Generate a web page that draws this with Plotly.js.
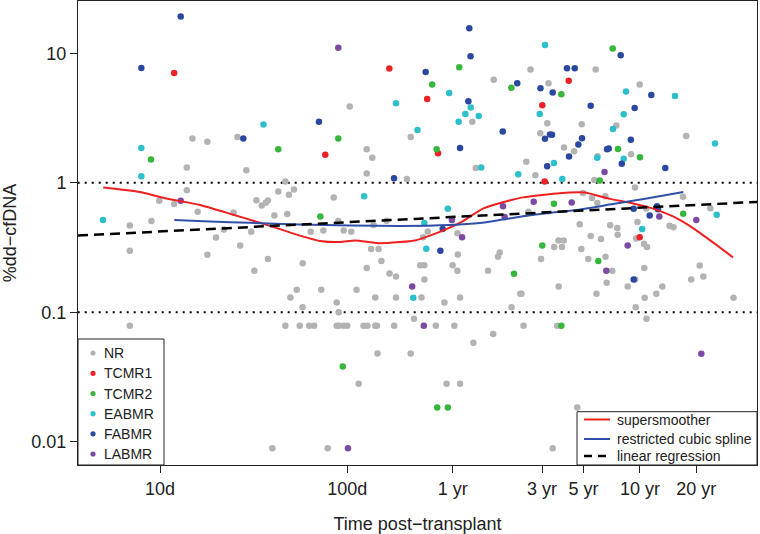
<!DOCTYPE html>
<html><head><meta charset="utf-8">
<script src="https://cdn.plot.ly/plotly-3.0.1.min.js"></script>
<style>html,body{margin:0;padding:0;background:#fff}#chart{width:760px;height:534px}</style>
</head><body><div id="chart"></div>
<script>
// ---- data: time post-transplant (days) and %dd-cfDNA ----
const nrDays = [6.9,9.0,9.9,11.9,13.9,13.9,14.9,15.9,17.9,25.9,28.9,24.7,21.9,30.7,19.9,26.8,6.9,17.9,31.9,6.9,
  32.7,34.9,36.7,37.7,40.8,42.8,46.7,48.8,51.9,47.8,84.6,103,127,136,127,89.5,63.8,74.5,95.7,105,
  162,138,218,208,134,147,37.7,57.8,152,127,245,168,182,53.7,72.6,112,49.7,141,182,87.8,
  57.7,89.9,227,46.7,55.7,62.6,66.5,87.8,90.6,95.7,99.9,122,128,141,144,178,145,218,115,39.8,
  78.6,258,365,269,254,387,389,387,258,249,330,400,297,373,471,339,400,465,485,605,
  951,1186,1169,1072,1435,1624,903,1009,1785,1813,926,1741,651,638,564,839,851,753,873,601,
  1272,1400,1341,1430,1082,1776,1935,1345,1320,1689,1249,2119,3640,2731,6448,3271,2166,2083,3436,6200,
  2025,2161,2386,3943,8672,3543,2533,2764,5253,5517,1993,2262,2778,3487,3838,3982,2391,2600,2427,2140,
  3448,3141,3852,3870,4465,4808,3465,3957,6857,7612,7956,11533];
const nrVal = [0.467,0.505,0.725,0.685,0.876,1.31,2.19,0.597,2.07,2.25,1.25,0.589,0.435,0.418,0.377,0.328,0.298,0.278,0.209,0.0787,
  0.733,0.668,0.700,0.728,0.557,0.856,1.02,0.808,0.886,0.573,0.767,3.87,1.81,1.56,1.18,0.507,0.418,0.427,0.427,0.418,
  0.509,0.471,2.25,1.07,0.308,0.308,0.258,0.239,0.248,0.219,0.230,0.199,0.189,0.149,0.149,0.149,0.13,0.13,0.13,0.119,
  0.109,0.1,0.089,0.0787,0.0787,0.0787,0.0787,0.0787,0.0787,0.0787,0.0787,0.0787,0.0787,0.0787,0.0787,0.0787,0.048,0.048,0.028,0.0089,
  0.0089,0.23,0.23,0.419,0.379,0.407,0.279,0.209,0.179,0.13,0.119,0.13,0.0787,0.0787,0.058,0.028,0.028,2.95,1.30,6.24,
  7.48,5.87,2.88,2.41,1.87,1.75,1.45,1.14,2.83,0.832,0.597,0.477,0.289,0.268,0.209,0.139,0.139,0.109,0.0787,0.068,
  0.319,0.319,0.358,0.358,0.258,0.308,0.258,0.158,0.0787,0.0184,0.0089,7.48,5.73,2.76,2.29,1.66,1.60,1.05,0.918,0.780,
  0.763,0.697,0.786,0.631,0.635,0.496,0.469,0.447,0.465,0.453,0.388,0.368,0.397,0.370,0.338,0.319,0.268,0.209,0.169,0.139,
  0.179,0.158,0.219,0.129,0.139,0.158,0.109,0.089,0.179,0.229,0.189,0.129];

const tcmr1Days = [11.9,76.3,167.6,267,305,1521,1099,1132,3640];
const tcmr1Val  = [7.03,1.64,7.62,4.42,1.69,6.13,3.97,1.02,0.379];

const tcmr2Days = [8.95,42.8,89.5,71.8,94.6,396,284,300,751,1389,2612,2788,3653,2226,1268,1099,2188,776,1389,6215,302,344];
const tcmr2Val  = [1.51,1.81,2.19,0.547,0.038,7.80,5.73,1.81,5.40,4.81,10.87,1.82,1.57,1.04,0.688,0.328,0.248,0.198,0.0787,0.576,0.0184,0.0184];

const eabmrDays = [4.96,7.95,7.95,35.7,123,182,237,350,456,427,393,503,519,818,1136,1065,1268,1406,344,258,264,225,3076,2990,2622,5620,9189,2161,2990,3753,9381];
const eabmrVal  = [0.516,1.85,1.12,2.81,0.786,4.11,2.55,4.93,3.80,3.39,2.95,3.27,1.31,1.16,11.56,3.39,1.42,1.07,0.628,0.488,0.309,0.1295,5.05,3.37,2.60,4.67,2.01,1.56,1.53,0.438,0.566];

const fabmrDays = [12.9,7.95,27.85,70.6,177.6,262,448,455,443,400,676,808,1075,1249,1489,1638,1993,1136,1208,1238,1167,1527,1712,1791,323,314,2882,4198,3423,3263,2436,2487,2921,4989,3381,4115,4503,4560,3381];
const fabmrVal  = [19.2,7.70,2.19,2.95,1.08,7.16,15.6,9.47,4.26,1.85,2.49,5.87,5.36,4.96,7.66,7.66,3.92,2.18,2.36,2.35,1.34,1.59,1.97,2.20,0.438,0.298,9.64,4.76,3.78,2.15,1.81,1.84,1.40,1.30,0.628,0.557,0.659,0.624,0.179];

const labmrDays = [12.9,89.5,100.8,222,256,362,410,678,692,989,1578,2362,3141,2415,4634,7301,7762];
const labmrVal  = [0.725,11.0,0.0089,0.158,0.0787,0.516,0.379,0.657,0.543,0.712,0.704,1.21,0.328,0.209,0.547,0.516,0.0477];

// fitted curves
const smoothDays = [4.98,7.82,10.86,16.36,24.6,34.2,43.7,55.9,71.5,91.4,109.9,145.9,191.1,229.9,276.4,340.7,414.7,530.3,678,867,1136,1545,1858,2102,2527,3231,4287,5483,6512,7366,8966,11470];
const smoothVal  = [0.918,0.846,0.754,0.673,0.566,0.490,0.438,0.390,0.355,0.348,0.358,0.341,0.348,0.358,0.390,0.440,0.505,0.631,0.706,0.770,0.808,0.839,0.839,0.804,0.750,0.700,0.631,0.550,0.479,0.425,0.346,0.265];

const splineDays = [11.92,18.5,30.2,55.9,103.4,191.1,353.5,511,678,945,1208,1748,2622,3967,6222];
const splineVal  = [0.516,0.502,0.490,0.475,0.467,0.463,0.471,0.488,0.520,0.560,0.584,0.621,0.685,0.754,0.846];

const linregDays = [3, 20000];
const linregVal  = [0.385, 0.724];

const refLineDays = [1, 100000];
const refLevels = [1, 0.1];

const xTickVals = [10, 100, 365.25, 1095.75, 1826.25, 3652.5, 7305];
const xTickText = ['10d', '100d', '1 yr', '3 yr', '5 yr', '10 yr', '20 yr'];
const yTickVals = [0.01, 0.1, 1, 10];
const yTickText = ['0.01', '0.1', '1', '10'];

const groupNames = ['NR', 'TCMR1', 'TCMR2', 'EABMR', 'FABMR', 'LABMR'];
const fitNames = ['supersmoother', 'restricted cubic spline', 'linear regression'];

// ---- styles ----
const groupColors = ['#b3b3b3', '#ec2227', '#37b63c', '#2dbfcb', '#2b48a0', '#7b4aa2'];
const fitStyles = [
  {color: '#f0201f', width: 2, dash: 'solid'},
  {color: '#3050a8', width: 2, dash: 'solid'},
  {color: '#000000', width: 2.5, dash: '10px,6px'}
];
const font = 'Liberation Sans, Arial, Helvetica, sans-serif';
const ink = '#222';

// ---- traces ----
const traces = [];
refLevels.forEach(v => traces.push({
  type: 'scatter', mode: 'lines', x: refLineDays, y: [v, v], showlegend: false, hoverinfo: 'skip',
  line: {color: '#000', width: 2, dash: '2px,5px'}
}));
const groupData = [[nrDays, nrVal], [tcmr1Days, tcmr1Val], [tcmr2Days, tcmr2Val],
                   [eabmrDays, eabmrVal], [fabmrDays, fabmrVal], [labmrDays, labmrVal]];
groupData.forEach(([x, y], i) => traces.push({
  type: 'scatter', mode: 'markers', name: groupNames[i], x: x, y: y, showlegend: false, hoverinfo: 'skip',
  marker: {color: groupColors[i], size: 6.5, line: {width: 0}}
}));
const fitData = [[smoothDays, smoothVal, 'spline'], [splineDays, splineVal, 'spline'], [linregDays, linregVal, 'linear']];
fitData.forEach(([x, y, shp], i) => traces.push({
  type: 'scatter', mode: 'lines', name: fitNames[i], x: x, y: y, showlegend: false, hoverinfo: 'skip',
  line: Object.assign({shape: shp, smoothing: 0.6}, fitStyles[i])
}));

// ---- legends drawn in paper space (pixel-positioned) ----
const L = 78, R = 757, T = 1, B = 465;
const px = v => (v - L) / (R - L);
const py = v => (B - v) / (B - T);
const shapes = [];
const annotations = [];

// left legend: points
shapes.push({type: 'rect', xref: 'paper', yref: 'paper', x0: px(78), x1: px(164), y0: py(465), y1: py(339),
  line: {color: ink, width: 1}, fillcolor: '#fff', layer: 'above'});
const leftRows = [353, 373.3, 393.5, 413.7, 433.8, 454];
groupNames.forEach((n, i) => {
  const cy = leftRows[i];
  shapes.push({type: 'circle', xref: 'paper', yref: 'paper', x0: px(93 - 2.6), x1: px(93 + 2.6),
    y0: py(cy + 2.6), y1: py(cy - 2.6), fillcolor: groupColors[i], line: {width: 0}, layer: 'above'});
  annotations.push({xref: 'paper', yref: 'paper', x: px(102), y: py(cy), xanchor: 'left', yanchor: 'middle',
    text: n, showarrow: false, font: {size: 14, color: ink, family: font}});
});

// right legend: fitted lines
shapes.push({type: 'rect', xref: 'paper', yref: 'paper', x0: px(577), x1: px(757), y0: py(465), y1: py(411.7),
  line: {color: ink, width: 1}, fillcolor: '#fff', layer: 'above'});
const rightRows = [419.5, 439, 456];
fitNames.forEach((n, i) => {
  const cy = rightRows[i];
  shapes.push({type: 'line', xref: 'paper', yref: 'paper', x0: px(584), x1: px(610), y0: py(cy), y1: py(cy),
    line: {color: fitStyles[i].color, width: fitStyles[i].width, dash: i === 2 ? '8px,6px' : 'solid'}, layer: 'above'});
  annotations.push({xref: 'paper', yref: 'paper', x: px(615), y: py(cy), xanchor: 'left', yanchor: 'middle',
    text: n, showarrow: false, font: {size: 14, color: ink, family: font}});
});

const axisCommon = {
  type: 'log', showgrid: false, zeroline: false, showline: true, linecolor: ink, linewidth: 1, mirror: true,
  ticks: 'outside', ticklen: 7, tickwidth: 1, tickcolor: ink, tickfont: {size: 18, color: ink, family: font}
};

const layout = {
  width: 760, height: 534,
  margin: {l: 78, r: 3, t: 1, b: 69, pad: 0},
  paper_bgcolor: '#fff', plot_bgcolor: '#fff',
  font: {family: font, color: ink},
  showlegend: false,
  xaxis: Object.assign({}, axisCommon, {
    range: [0.5622, 4.1874], tickmode: 'array', tickvals: xTickVals, ticktext: xTickText,
    title: {text: 'Time post\u2212transplant', font: {size: 18, color: ink, family: font}, standoff: 19}
  }),
  yaxis: Object.assign({}, axisCommon, {
    range: [-2.18, 1.403], tickmode: 'array', tickvals: yTickVals, ticktext: yTickText,
    title: {text: '%dd\u2212cfDNA', font: {size: 18, color: ink, family: font}, standoff: 12}
  }),
  shapes: shapes,
  annotations: annotations
};

Plotly.newPlot('chart', traces, layout, {displayModeBar: false, staticPlot: true});
</script>
</body></html>
